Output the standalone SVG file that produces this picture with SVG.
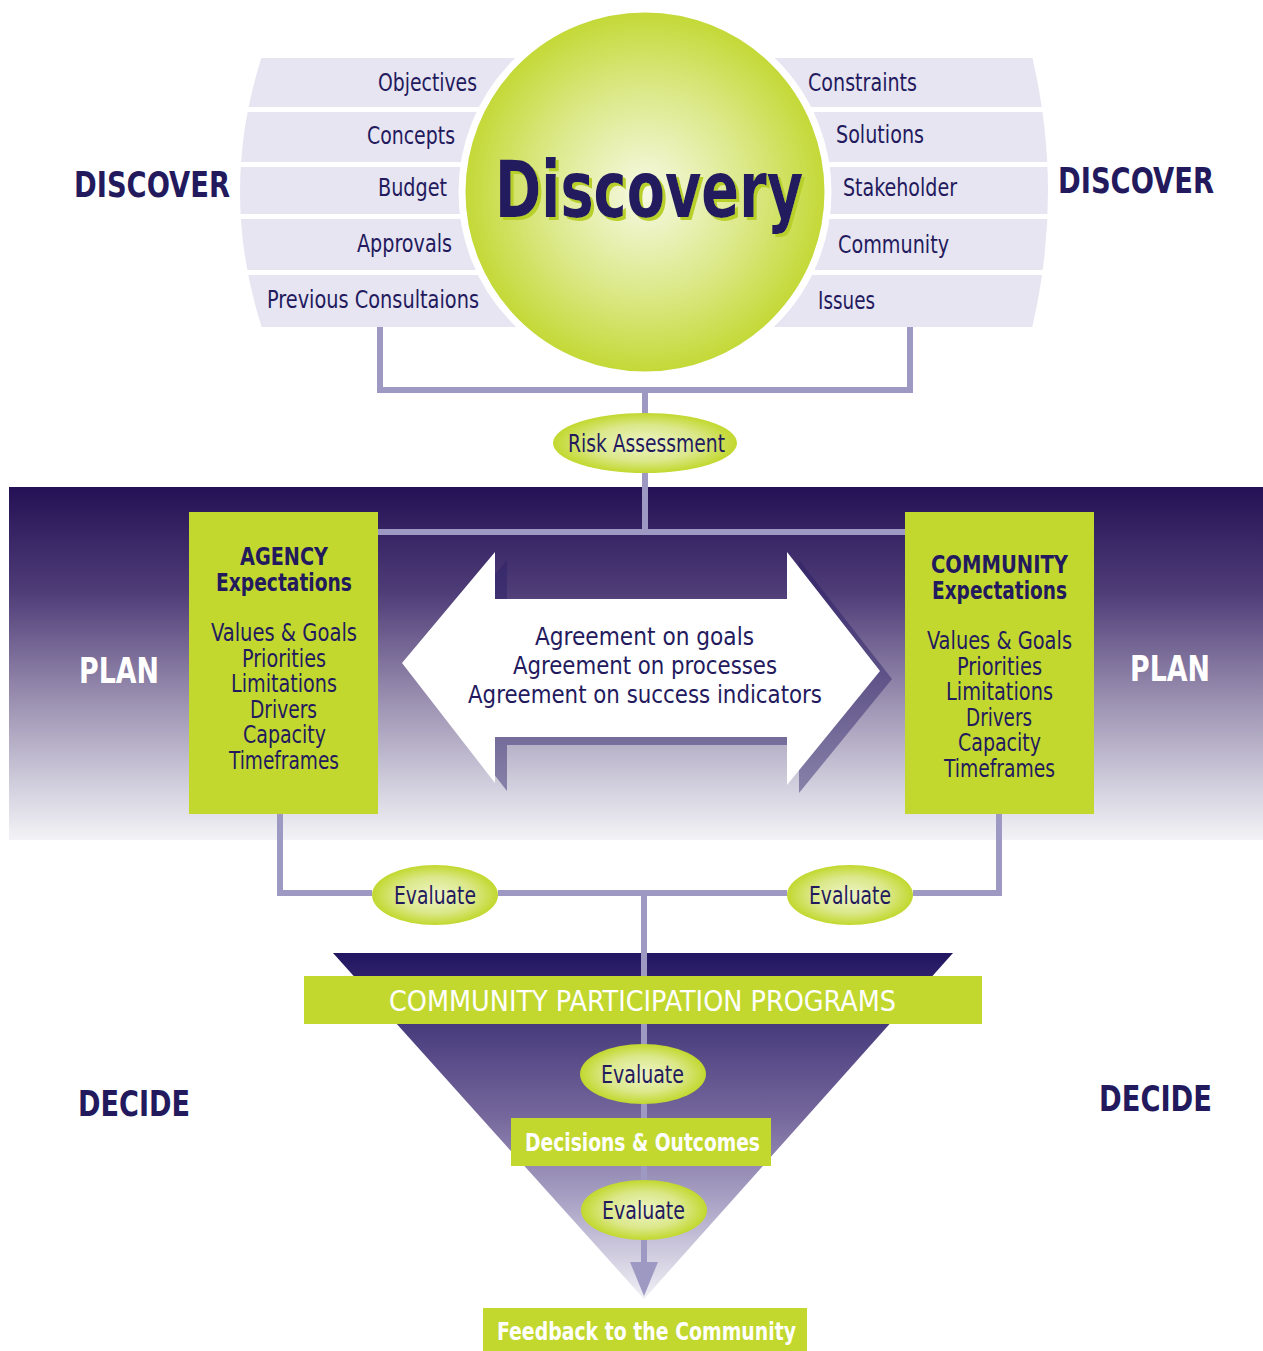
<svg xmlns="http://www.w3.org/2000/svg" width="1263" height="1351" viewBox="0 0 1263 1351">
<defs>
<style>
.t{font-family:"Liberation Sans Narrow","DejaVu Sans Condensed","Liberation Sans",sans-serif;fill:#231a5e}
.s{font-size:24px}
.m{font-size:24px}
.b{font-weight:bold}
.w{fill:#ffffff}
.conn{stroke:#9e99c2;stroke-width:6;fill:none}
.strip{fill:#e7e5f1}
.green{fill:#c2d82e}
</style>
<filter id="greenShadow" x="-5%" y="-20%" width="110%" height="140%">
<feDropShadow dx="3" dy="3" stdDeviation="0" flood-color="#b9d02a" flood-opacity="1"/>
</filter>
<linearGradient id="band" x1="0" y1="0" x2="0" y2="1">
<stop offset="0" stop-color="#241155"/>
<stop offset="0.3" stop-color="#4f3d78"/>
<stop offset="0.6" stop-color="#9a8fb0"/>
<stop offset="0.85" stop-color="#d2d0de"/>
<stop offset="1" stop-color="#f3f3f6"/>
</linearGradient>
<linearGradient id="funnel" x1="0" y1="0" x2="0" y2="1">
<stop offset="0" stop-color="#221561"/>
<stop offset="0.2" stop-color="#463a7c"/>
<stop offset="0.48" stop-color="#77699d"/>
<stop offset="0.72" stop-color="#aaa3c5"/>
<stop offset="1" stop-color="#f1f0f6"/>
</linearGradient>
<radialGradient id="ball" cx="0.5" cy="0.5" r="0.5">
<stop offset="0" stop-color="#f6f9e4"/>
<stop offset="0.55" stop-color="#dce98a"/>
<stop offset="1" stop-color="#c3d834"/>
</radialGradient>
<radialGradient id="oval" cx="0.5" cy="0.5" r="0.5">
<stop offset="0" stop-color="#eef4c6"/>
<stop offset="0.6" stop-color="#dbe88a"/>
<stop offset="1" stop-color="#c2d82e"/>
</radialGradient>
<clipPath id="barrel">
<path d="M262,56 Q218,192 262,328 L1032,328 Q1064,192 1032,56 Z"/>
</clipPath>
</defs>

<rect width="1263" height="1351" fill="#ffffff"/>

<rect id="plan-band" x="9" y="487" width="1254" height="353" fill="url(#band)"/>

<path id="funnel-shape" d="M333,953 L953,953 L644,1299 Z" fill="url(#funnel)"/>

<g id="discovery-strips" clip-path="url(#barrel)">
<rect class="strip" x="200" y="58" width="900" height="49"/>
<rect class="strip" x="200" y="112" width="900" height="50"/>
<rect class="strip" x="200" y="167" width="900" height="47"/>
<rect class="strip" x="200" y="219" width="900" height="51"/>
<rect class="strip" x="200" y="275" width="900" height="52"/>
</g>

<g id="connectors">
<path class="conn" d="M380,327 V390 H910 V327"/>
<path class="conn" d="M645,390 V415"/>
<path class="conn" d="M645,472 V532 M378,532 H905"/>
<path class="conn" d="M280,814 V893 H372 M498,893 H787 M913,893 H999 V814"/>
<path class="conn" d="M644,893 V976"/>
<path class="conn" d="M644,1024 V1045 M644,1103 V1118 M644,1166 V1181 M644,1240 V1265" stroke-width="5"/>
<path d="M630,1262 L658,1262 L644,1296 Z" fill="#9e99c2"/>
</g>

<g id="discovery">
<circle cx="645" cy="192" r="183" fill="url(#ball)" stroke="#ffffff" stroke-width="7"/>
<text class="t b" x="495" y="217" font-size="78" textLength="308" lengthAdjust="spacingAndGlyphs" filter="url(#greenShadow)">Discovery</text>
</g>

<g id="left-items">
<text class="t s" x="378" y="91" textLength="99" lengthAdjust="spacingAndGlyphs">Objectives</text>
<text class="t s" x="367" y="144" textLength="88" lengthAdjust="spacingAndGlyphs">Concepts</text>
<text class="t s" x="378" y="196" textLength="69" lengthAdjust="spacingAndGlyphs">Budget</text>
<text class="t s" x="357" y="252" textLength="95" lengthAdjust="spacingAndGlyphs">Approvals</text>
<text class="t s" x="267" y="308" textLength="212" lengthAdjust="spacingAndGlyphs">Previous Consultaions</text>
</g>
<g id="right-items">
<text class="t s" x="808" y="91" textLength="109" lengthAdjust="spacingAndGlyphs">Constraints</text>
<text class="t s" x="836" y="143" textLength="88" lengthAdjust="spacingAndGlyphs">Solutions</text>
<text class="t s" x="843" y="196" textLength="114" lengthAdjust="spacingAndGlyphs">Stakeholder</text>
<text class="t s" x="838" y="253" textLength="111" lengthAdjust="spacingAndGlyphs">Community</text>
<text class="t s" x="818" y="309" textLength="57" lengthAdjust="spacingAndGlyphs">Issues</text>
</g>

<g id="labels">
<text class="t b" x="74" y="197" font-size="36" textLength="156" lengthAdjust="spacingAndGlyphs">DISCOVER</text>
<text class="t b" x="1058" y="193" font-size="36" textLength="156" lengthAdjust="spacingAndGlyphs">DISCOVER</text>
<text class="t b w" x="79" y="683" font-size="36" textLength="80" lengthAdjust="spacingAndGlyphs">PLAN</text>
<text class="t b w" x="1130" y="681" font-size="36" textLength="80" lengthAdjust="spacingAndGlyphs">PLAN</text>
<text class="t b" x="78" y="1116" font-size="36" textLength="112" lengthAdjust="spacingAndGlyphs">DECIDE</text>
<text class="t b" x="1099" y="1111" font-size="36" textLength="113" lengthAdjust="spacingAndGlyphs">DECIDE</text>
</g>

<g id="risk-assessment">
<ellipse cx="645" cy="443" rx="92" ry="30" fill="url(#oval)"/>
<text class="t s" x="568" y="452" textLength="157" lengthAdjust="spacingAndGlyphs">Risk Assessment</text>
</g>

<g id="agency">
<rect class="green" x="189" y="512" width="189" height="302"/>
<text class="t b m" x="240" y="565" textLength="88" lengthAdjust="spacingAndGlyphs">AGENCY</text>
<text class="t b m" x="216" y="591" textLength="136" lengthAdjust="spacingAndGlyphs">Expectations</text>
<text class="t m" x="211" y="641" textLength="146" lengthAdjust="spacingAndGlyphs">Values &amp; Goals</text>
<text class="t m" x="242" y="667" textLength="84" lengthAdjust="spacingAndGlyphs">Priorities</text>
<text class="t m" x="231" y="692" textLength="106" lengthAdjust="spacingAndGlyphs">Limitations</text>
<text class="t m" x="250" y="718" textLength="67" lengthAdjust="spacingAndGlyphs">Drivers</text>
<text class="t m" x="243" y="743" textLength="83" lengthAdjust="spacingAndGlyphs">Capacity</text>
<text class="t m" x="229" y="769" textLength="110" lengthAdjust="spacingAndGlyphs">Timeframes</text>
</g>

<g id="community">
<rect class="green" x="905" y="512" width="189" height="302"/>
<text class="t b m" x="931" y="573" textLength="137" lengthAdjust="spacingAndGlyphs">COMMUNITY</text>
<text class="t b m" x="932" y="599" textLength="135" lengthAdjust="spacingAndGlyphs">Expectations</text>
<text class="t m" x="927" y="649" textLength="145" lengthAdjust="spacingAndGlyphs">Values &amp; Goals</text>
<text class="t m" x="957" y="675" textLength="85" lengthAdjust="spacingAndGlyphs">Priorities</text>
<text class="t m" x="946" y="700" textLength="107" lengthAdjust="spacingAndGlyphs">Limitations</text>
<text class="t m" x="966" y="726" textLength="66" lengthAdjust="spacingAndGlyphs">Drivers</text>
<text class="t m" x="958" y="751" textLength="83" lengthAdjust="spacingAndGlyphs">Capacity</text>
<text class="t m" x="944" y="777" textLength="111" lengthAdjust="spacingAndGlyphs">Timeframes</text>
</g>

<g id="agreement">
<path d="M402,663 L495,552 L495,599 L787,599 L787,552 L880,671 L787,785 L787,737 L495,737 L495,783 Z" transform="translate(12,8)" fill="#2a1f66" fill-opacity="0.45"/>
<path d="M402,663 L495,552 L495,599 L787,599 L787,552 L880,671 L787,785 L787,737 L495,737 L495,783 Z" fill="#ffffff"/>
<text class="t" x="535" y="645" font-size="25" textLength="219" lengthAdjust="spacingAndGlyphs">Agreement on goals</text>
<text class="t" x="513" y="674" font-size="25" textLength="264" lengthAdjust="spacingAndGlyphs">Agreement on processes</text>
<text class="t" x="468" y="703" font-size="25" textLength="354" lengthAdjust="spacingAndGlyphs">Agreement on success indicators</text>
</g>

<g id="evaluate-left">
<ellipse cx="435" cy="895" rx="63" ry="30" fill="url(#oval)"/>
<text class="t s" x="394" y="904" textLength="82" lengthAdjust="spacingAndGlyphs">Evaluate</text>
</g>
<g id="evaluate-right">
<ellipse cx="850" cy="895" rx="63" ry="30" fill="url(#oval)"/>
<text class="t s" x="809" y="904" textLength="82" lengthAdjust="spacingAndGlyphs">Evaluate</text>
</g>

<g id="cpp">
<rect class="green" x="304" y="976" width="678" height="48"/>
<text class="t w" x="389" y="1011" font-size="28" textLength="507" lengthAdjust="spacingAndGlyphs">COMMUNITY PARTICIPATION PROGRAMS</text>
</g>

<g id="evaluate-mid">
<ellipse cx="643" cy="1074" rx="63" ry="30" fill="url(#oval)"/>
<text class="t s" x="601" y="1083" textLength="83" lengthAdjust="spacingAndGlyphs">Evaluate</text>
</g>

<g id="decisions">
<rect class="green" x="511" y="1118" width="260" height="48"/>
<text class="t b w" x="525" y="1151" font-size="24" textLength="235" lengthAdjust="spacingAndGlyphs">Decisions &amp; Outcomes</text>
</g>

<g id="evaluate-low">
<ellipse cx="644" cy="1210" rx="63" ry="30" fill="url(#oval)"/>
<text class="t s" x="602" y="1219" textLength="83" lengthAdjust="spacingAndGlyphs">Evaluate</text>
</g>

<g id="feedback">
<rect class="green" x="483" y="1308" width="324" height="43"/>
<text class="t b w" x="497" y="1340" font-size="24" textLength="299" lengthAdjust="spacingAndGlyphs">Feedback to the Community</text>
</g>
</svg>
